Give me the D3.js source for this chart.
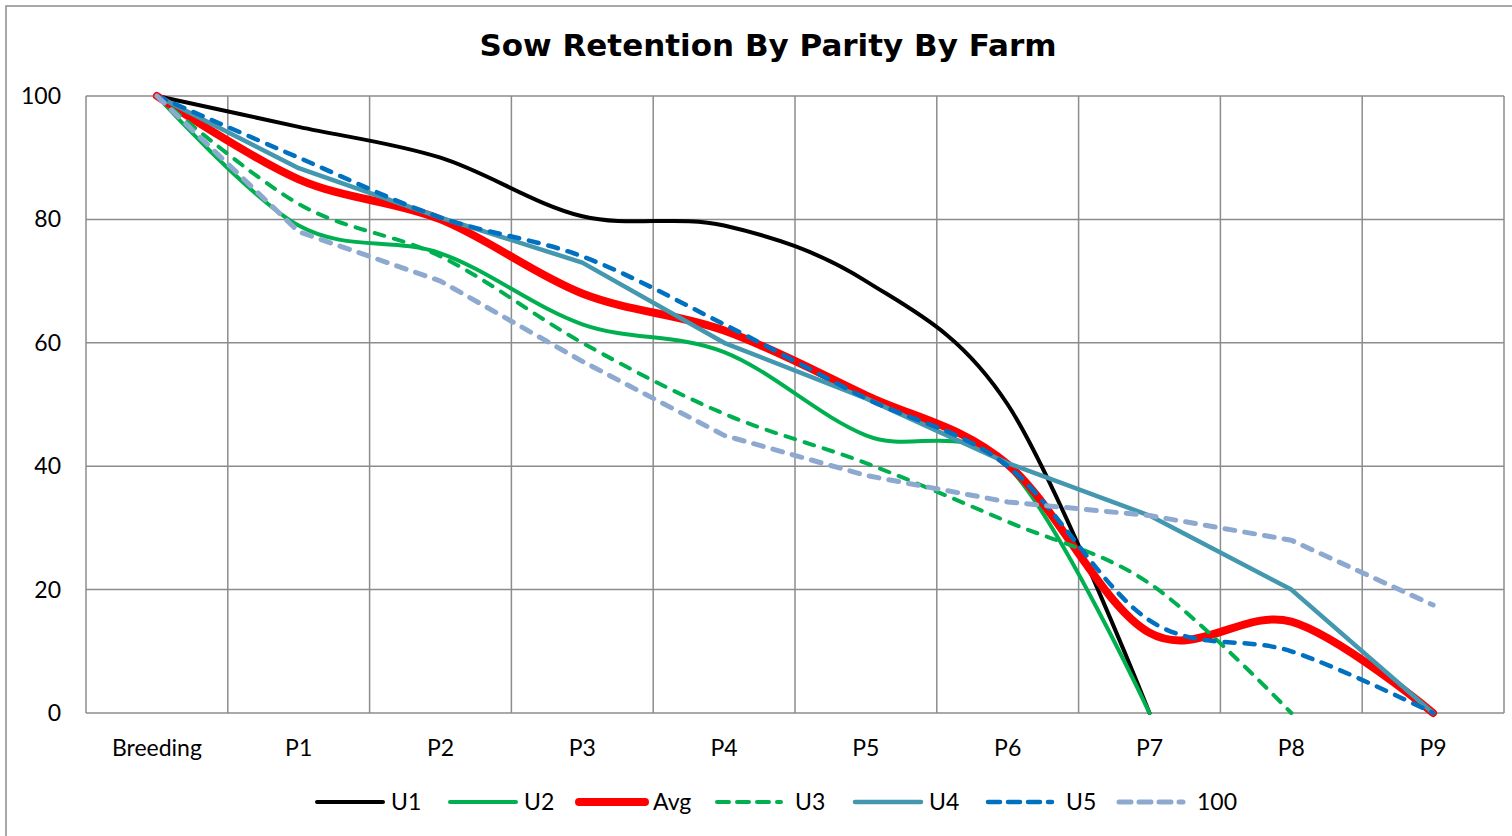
<!DOCTYPE html>
<html>
<head>
<meta charset="utf-8">
<script src="https://cdn.jsdelivr.net/npm/d3@7"></script>
<style>
  body { margin: 0; background: #fff; }
  svg { display: block; }
</style>
</head>
<body>
<div id="chart"></div>
<script>
// Sow retention by parity, one line per farm

const categories = ["Breeding", "P1", "P2", "P3", "P4", "P5", "P6", "P7", "P8", "P9"];
const yTicks = [0, 20, 40, 60, 80, 100];

// values (series stop where the farm drops to 0)
const u1   = [100, 95, 90, 80.5, 79, 70, 50, 0];
const u2   = [100, 79, 74.5, 63, 58.5, 45, 40, 0];
const avg  = [100, 86.5, 80, 68, 62, 51.5, 40.3, 13, 14.8, 0];
const u3   = [100, 82.5, 74, 60, 48.5, 40.5, 31, 21, 0];
const u4   = [100, 88.3, 80.3, 73, 60, 51, 40.5, 32, 20, 0];
const u5   = [100, 90, 80.3, 74, 63, 51, 40, 15, 10, 0];
const h100 = [100, 78, 70, 57, 45, 38.5, 34.2, 32, 28, 17.5];

const series = [
  {name: "U1",  values: u1,   color: "#000000", width: 4,   dash: null,   smooth: true},
  {name: "U2",  values: u2,   color: "#00B050", width: 4,   dash: null,   smooth: true},
  {name: "Avg", values: avg,  color: "#FF0000", width: 8,   dash: null,   smooth: true},
  {name: "U3",  values: u3,   color: "#00B050", width: 4,   dash: "10,10", smooth: true},
  {name: "U4",  values: u4,   color: "#4397AF", width: 4.5, dash: null,   smooth: false},
  {name: "U5",  values: u5,   color: "#0070C0", width: 4.5, dash: "10,10", smooth: true},
  {name: "100", values: h100, color: "#8EA9D0", width: 5,   dash: "10,10", smooth: false}
];

const W = 1512, H = 836;
const margin = {left: 86, right: 8, top: 96, bottom: 123};

const svg = d3.select("#chart")
  .append("svg")
  .attr("width", W)
  .attr("height", H);

// chart frame
svg.append("rect")
  .attr("x", 6).attr("y", 6)
  .attr("width", W + 20).attr("height", H + 20)
  .attr("fill", "none")
  .attr("stroke", "#8c8c8c")
  .attr("stroke-width", 1.5);

const x = d3.scaleBand()
  .domain(categories)
  .range([margin.left, W - margin.right]);

const y = d3.scaleLinear()
  .domain([0, 100])
  .range([H - margin.bottom, margin.top]);

const cx = c => x(c) + x.bandwidth() / 2;

// grid
const grid = svg.append("g").attr("stroke", "#8c8c8c").attr("stroke-width", 1.5);
grid.selectAll("line.h")
  .data(yTicks)
  .join("line")
    .attr("class", "h")
    .attr("x1", margin.left).attr("x2", W - margin.right)
    .attr("y1", d => y(d)).attr("y2", d => y(d));
grid.selectAll("line.v")
  .data(d3.range(categories.length + 1))
  .join("line")
    .attr("class", "v")
    .attr("x1", i => margin.left + i * x.step())
    .attr("x2", i => margin.left + i * x.step())
    .attr("y1", y(0)).attr("y2", y(100));

// axis labels
svg.append("g")
  .selectAll("text")
  .data(yTicks)
  .join("text")
    .attr("x", 61)
    .attr("y", d => y(d))
    .attr("dy", "0.35em")
    .attr("text-anchor", "end")
    .style("font", "23px Lato")
    .text(d => d);

svg.append("g")
  .selectAll("text")
  .data(categories)
  .join("text")
    .attr("x", cx)
    .attr("y", 748)
    .attr("dy", "0.35em")
    .attr("text-anchor", "middle")
    .style("font", "23px Lato")
    .text(d => d);

// lines
const smoothLine = d3.line()
  .x((d, i) => cx(categories[i]))
  .y(d => y(d))
  .curve(d3.curveCardinal.tension(0));
const straightLine = d3.line()
  .x((d, i) => cx(categories[i]))
  .y(d => y(d));

svg.append("g")
  .selectAll("path")
  .data(series)
  .join("path")
    .attr("fill", "none")
    .attr("stroke", d => d.color)
    .attr("stroke-width", d => d.width)
    .attr("stroke-dasharray", d => d.dash)
    .attr("stroke-linecap", "round")
    .attr("stroke-linejoin", "round")
    .attr("d", d => (d.smooth ? smoothLine : straightLine)(d.values));

// title
svg.append("text")
  .attr("x", 768)
  .attr("y", 56)
  .attr("text-anchor", "middle")
  .style("font", "bold 31px 'DejaVu Sans'")
  .text("Sow Retention By Parity By Farm");

// legend
const legendX = [315, 448, 577, 715, 853, 986, 1117];
const legend = svg.append("g")
  .selectAll("g")
  .data(series)
  .join("g")
    .attr("transform", (d, i) => `translate(${legendX[i]},802)`);
legend.append("line")
  .attr("x1", 2).attr("x2", d => d.dash ? 66 : 68)
  .attr("stroke", d => d.color)
  .attr("stroke-width", d => d.width)
  .attr("stroke-dasharray", d => d.dash ? "12,8" : null)
  .attr("stroke-linecap", "round");
legend.append("text")
  .attr("x", d => d.dash ? 80 : 76)
  .attr("dy", "0.35em")
  .style("font", "23px Lato")
  .text(d => d.name);
</script>
</body>
</html>
